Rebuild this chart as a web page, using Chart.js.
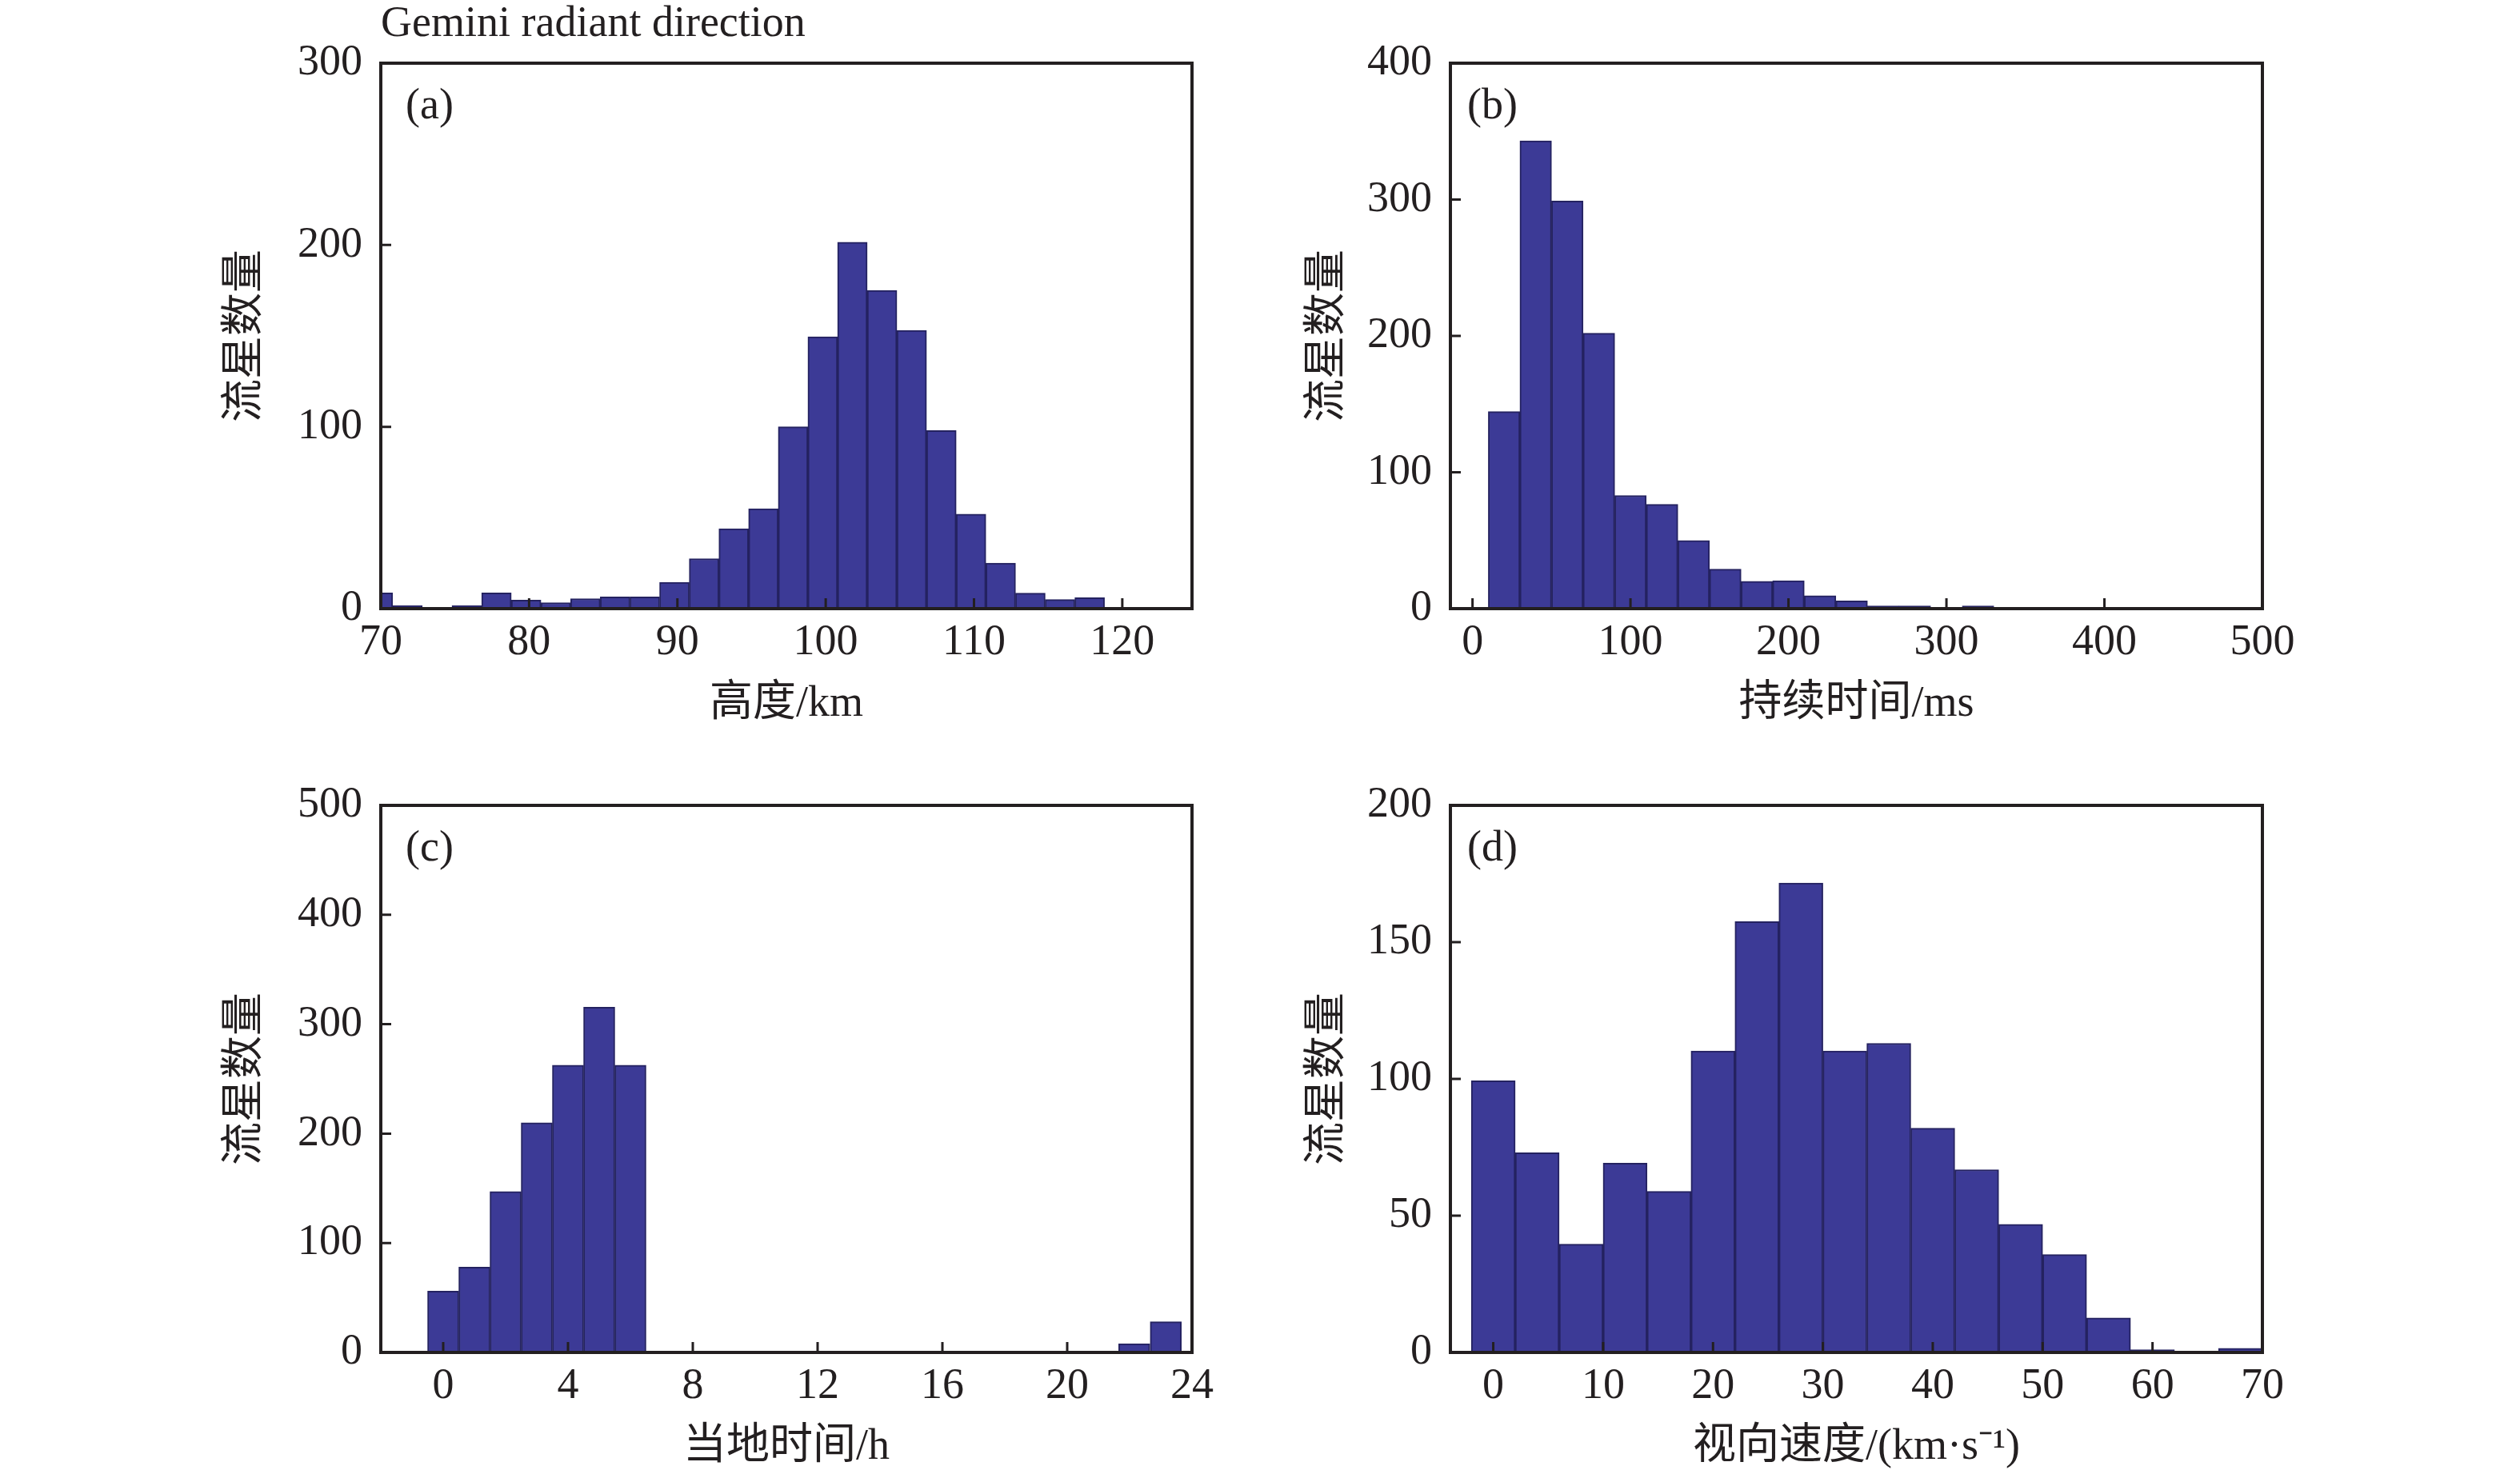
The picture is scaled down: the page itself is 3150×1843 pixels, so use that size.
<!DOCTYPE html>
<html>
<head>
<meta charset="utf-8">
<script src="https://cdn.jsdelivr.net/npm/chart.js@4.4.1/dist/chart.umd.min.js"></script>
<style>
  html, body { margin: 0; padding: 0; background: #fff; }
  #wrap { position: relative; width: 3150px; height: 1843px; }
  #wrap canvas { position: absolute; left: 0; top: 0; }
</style>
</head>
<body>
<div id="wrap">
  <canvas id="chartA" width="3150" height="1843"></canvas>
  <canvas id="chartB" width="3150" height="1843"></canvas>
  <canvas id="chartC" width="3150" height="1843"></canvas>
  <canvas id="chartD" width="3150" height="1843"></canvas>
</div>
<script>
// (a) height, bin centres in km
var altBins = [69.8, 71.8, 73.8, 75.8, 77.8, 79.8, 81.8, 83.8, 85.8, 87.8, 89.8, 91.8, 93.8, 95.8,
  97.8, 99.8, 101.8, 103.8, 105.8, 107.8, 109.8, 111.8, 113.8, 115.8, 117.8, 119.8, 121.8, 123.8];
var altCounts = [8.7, 1.6, 0, 1.6, 8.7, 4.7, 3.3, 5.5, 6.5, 6.5, 14.5, 27.5, 44, 55,
  100, 149.5, 201.5, 175, 153, 98, 52, 25, 8.5, 5, 6, 0.5, 0.5, 0.5];
var altTicksX = [70, 80, 90, 100, 110, 120];
var altTicksY = [0, 100, 200, 300];

// (b) duration, bin centres in ms
var durBins = [20, 40, 60, 80, 100, 120, 140, 160, 180, 200, 220, 240, 260, 280, 300, 320,
  340, 360, 380, 400, 420, 440, 460, 480];
var durCounts = [144.5, 343, 299, 202, 83, 76.5, 50, 29, 20, 20.5, 9.5, 5.7, 2, 2, 0, 2,
  0.5, 0.5, 0.5, 0.5, 0, 0.5, 0, 0.5];
var durTicksX = [0, 100, 200, 300, 400, 500];
var durTicksY = [0, 100, 200, 300, 400];

// (c) local time, bin centres in h
var timeBins = [0, 1, 2, 3, 4, 5, 6, 22.15, 23.16];
var timeCounts = [56, 78, 147, 210, 262.5, 315.5, 262.5, 8, 28];
var timeTicksX = [0, 4, 8, 12, 16, 20, 24];
var timeTicksY = [0, 100, 200, 300, 400, 500];

// (d) radial velocity, bin centres in km/s
var speedBins = [0, 4, 8, 12, 16, 20, 24, 28, 32, 36, 40, 44, 48, 52, 56, 60, 64, 68];
var speedCounts = [99.3, 73, 39.6, 69.2, 58.9, 110.2, 157.5, 171.6, 110.2, 113, 82, 66.8,
  46.8, 35.8, 12.6, 1, 0, 1.5];
var speedTicksX = [0, 10, 20, 30, 40, 50, 60, 70];
var speedTicksY = [0, 50, 100, 150, 200];

var ink = '#231f20';
var family = '"Liberation Serif", "Noto Sans CJK SC", serif';
var yTitle = '流星数量';

// box frame, inward ticks and the (a)/(b)... mark
var frameAndTicks = {
  id: 'frameAndTicks',
  afterDatasetsDraw: function (chart, args, opts) {
    var ctx = chart.ctx, a = chart.chartArea, x = chart.scales.x, y = chart.scales.y;
    ctx.save();
    ctx.strokeStyle = ink;
    ctx.lineWidth = 3;
    ctx.beginPath();
    x.ticks.forEach(function (t) {
      var px = x.getPixelForValue(t.value);
      ctx.moveTo(px, a.bottom);
      ctx.lineTo(px, a.bottom - 13);
    });
    y.ticks.forEach(function (t) {
      var py = y.getPixelForValue(t.value);
      ctx.moveTo(a.left, py);
      ctx.lineTo(a.left + 13, py);
    });
    ctx.stroke();
    ctx.lineWidth = 4;
    ctx.strokeRect(a.left, a.top, a.right - a.left, a.bottom - a.top);
    ctx.fillStyle = ink;
    ctx.font = '54px ' + family;
    ctx.textAlign = 'left';
    ctx.textBaseline = 'middle';
    ctx.fillText(opts.label, a.left + opts.dx, a.top + 55);
    ctx.restore();
  }
};

function panel(id, p) {
  var points = p.bins.map(function (b, i) { return { x: b, y: p.counts[i] }; });
  return new Chart(document.getElementById(id), {
    type: 'bar',
    data: {
      datasets: [{
        data: points,
        backgroundColor: 'rgb(60, 58, 150)',
        borderColor: 'rgb(36, 34, 96)',
        borderWidth: 2,
        barPercentage: 1,
        categoryPercentage: 1
      }]
    },
    options: {
      responsive: false,
      devicePixelRatio: 1,
      animation: false,
      layout: { padding: p.pad },
      plugins: {
        legend: { display: false },
        tooltip: { enabled: false },
        title: p.title ? {
          display: true, text: p.title, align: 'start', fullSize: false, color: ink,
          font: { family: family, size: 54, weight: 'normal', lineHeight: 1 },
          padding: { top: 0, bottom: 21 }
        } : { display: false },
        frameAndTicks: { label: p.label, dx: p.dx }
      },
      scales: {
        x: {
          type: 'linear', min: p.xMin, max: p.xMax, offset: false,
          grid: { display: false, drawTicks: false, offset: false },
          border: { display: false },
          ticks: {
            color: ink, padding: 10, maxRotation: 0, autoSkip: false,
            font: { family: family, size: 54 },
            callback: function (v) { return String(v); }
          },
          afterBuildTicks: function (s) { s.ticks = p.xTicks.map(function (v) { return { value: v }; }); },
          afterFit: function (s) { s.height = p.hx; },
          title: {
            display: true, text: p.xTitle, color: ink, padding: 0,
            font: { family: family, size: 54, lineHeight: 1.2 }
          }
        },
        y: {
          min: 0, max: p.yMax,
          grid: { display: false, drawTicks: false },
          border: { display: false },
          ticks: {
            color: ink, padding: 23,
            font: { family: family, size: 54 },
            callback: function (v) { return String(v); }
          },
          afterBuildTicks: function (s) { s.ticks = p.yTicks.map(function (v) { return { value: v }; }); },
          afterFit: function (s) { s.width = p.wy; },
          title: {
            display: true, text: yTitle, color: ink, padding: 0,
            font: { family: family, size: 54, lineHeight: 1.2 }
          }
        }
      }
    },
    plugins: [frameAndTicks]
  });
}

panel('chartA', {
  bins: altBins, counts: altCounts, xTicks: altTicksX, yTicks: altTicksY,
  xMin: 70, xMax: 124.7, yMax: 300, xTitle: '高度/km', label: '(a)', dx: 31,
  title: 'Gemini radiant direction',
  pad: { left: 275, top: 4, right: 1660, bottom: 930 }, wy: 201, hx: 152
});
panel('chartB', {
  bins: durBins, counts: durCounts, xTicks: durTicksX, yTicks: durTicksY,
  xMin: -14, xMax: 500, yMax: 400, xTitle: '持续时间/ms', label: '(b)', dx: 21,
  pad: { left: 1628, top: 79, right: 322, bottom: 930 }, wy: 185, hx: 152
});
panel('chartC', {
  bins: timeBins, counts: timeCounts, xTicks: timeTicksX, yTicks: timeTicksY,
  xMin: -2, xMax: 24, yMax: 500, xTitle: '当地时间/h', label: '(c)', dx: 31,
  pad: { left: 275, top: 1007, right: 1660, bottom: 1 }, wy: 201, hx: 151
});
panel('chartD', {
  bins: speedBins, counts: speedCounts, xTicks: speedTicksX, yTicks: speedTicksY,
  xMin: -3.9, xMax: 70, yMax: 200, xTitle: '视向速度/(km·s⁻¹)', label: '(d)', dx: 21,
  pad: { left: 1628, top: 1007, right: 322, bottom: 1 }, wy: 185, hx: 151
});
</script>
</body>
</html>
